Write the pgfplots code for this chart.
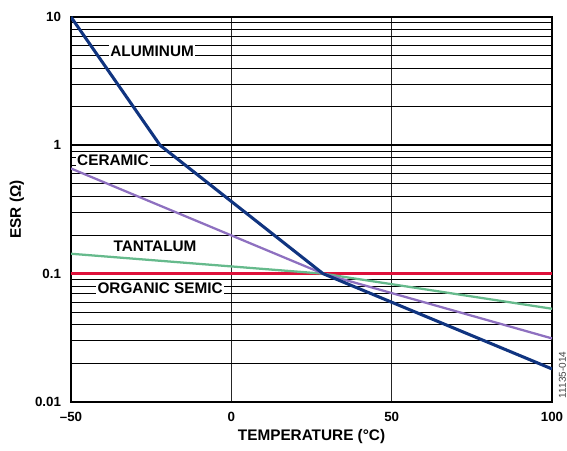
\documentclass[border=0pt]{standalone}
\usepackage{fontspec}
\setmainfont{Liberation Sans}
\usepackage{pgfplots}
\pgfplotsset{compat=1.18}

\definecolor{alu}{RGB}{16,52,128}
\definecolor{cer}{RGB}{142,112,192}
\definecolor{tan}{RGB}{102,186,140}
\definecolor{org}{RGB}{222,16,58}

\begin{document}
\begin{tikzpicture}
\useasboundingbox (-53.25pt,-36pt) rectangle (372pt,301.5pt);
\begin{axis}[
    at={(0,0)}, anchor=south west,
    scale only axis,
    width=360.75pt, height=288.75pt,
    xmin=-50, xmax=100,
    ymin=0.01, ymax=10,
    ymode=log,
    xtick={-50,0,50,100},
    xticklabels={–50,0,50,100},
    ytick={0.01,0.1,1,10},
    yticklabels={0.01,0.1,1,10},
    minor ytick={0.02,0.03,0.04,0.05,0.06,0.07,0.08,0.09,
                 0.2,0.3,0.4,0.5,0.6,0.7,0.8,0.9,
                 2,3,4,5,6,7,8,9},
    xmajorgrids, ymajorgrids, yminorgrids,
    major tick length=0pt, minor tick length=0pt,
    major x grid style={line width=0.75pt, black!85},
    major y grid style={line width=1.5pt, black},
    minor y grid style={line width=0.75pt, black},
    axis line style={line width=1.5pt, black},
    ticklabel style={font=\bfseries\fontsize{10}{12}\selectfont},
    xticklabel style={yshift=-4pt},
    yticklabel style={xshift=-4pt},
]
\addplot[org, line width=2.3pt] coordinates {(-50,0.1)(100,0.1)};
\addplot[tan, line width=1.7pt] coordinates {(-50,0.143)(28.6,0.1)(100,0.0533)};
\addplot[cer, line width=1.7pt] coordinates {(-50,0.66)(28.6,0.1)(100,0.0313)};
\addplot[alu, line width=2.3pt] coordinates {(-50,10)(-22.2,1)(28.6,0.1)(100,0.0181)};

\tikzset{lbl/.style={fill=white, inner sep=1.2pt, font=\bfseries\fontsize{11.5}{13}\selectfont}}
\node[lbl] at (axis cs:-24.7,5.42) {ALUMINUM};
\node[lbl] at (axis cs:-36.9,0.771) {CERAMIC};
\node[lbl] at (axis cs:-23.8,0.163) {TANTALUM};
\node[lbl] at (axis cs:-22.2,0.0764) {ORGANIC SEMIC};
\end{axis}
\node[font=\bfseries\fontsize{11.5}{13}\selectfont] at (180.4pt,-26.25pt) {TEMPERATURE (°C)};
\node[font=\bfseries\fontsize{11.5}{13}\selectfont, rotate=90] at (-40.5pt,144.4pt) {ESR (Ω)};
\node[font=\fontsize{7.5}{8}\selectfont, text=black!75, rotate=90] at (368.5pt,20.25pt) {11135-014};
\end{tikzpicture}
\end{document}
